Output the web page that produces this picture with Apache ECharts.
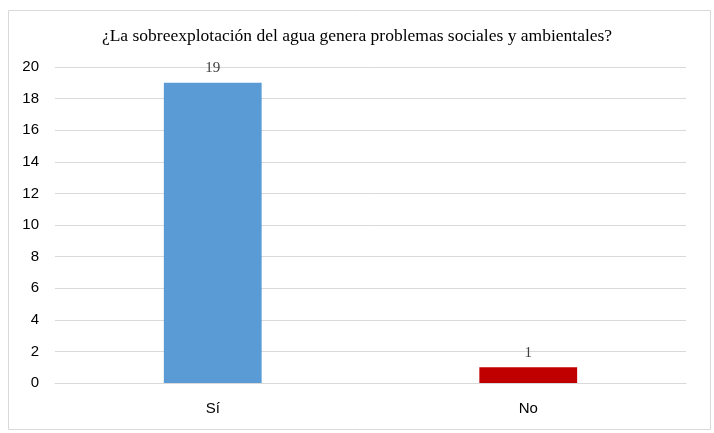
<!DOCTYPE html>
<html>
<head>
<meta charset="utf-8">
<script src="https://cdn.jsdelivr.net/npm/echarts@6/dist/echarts.min.js"></script>
<style>
  html, body { margin: 0; padding: 0; background: #fff; }
  #chart { width: 714px; height: 433px; }
</style>
</head>
<body>
<div id="chart"></div>
<script>
const categories = ["Sí", "No"];
const values = [19, 1];
const barColors = ["#5B9BD5", "#C00000"];
const titleText = "¿La sobreexplotación del agua genera problemas sociales y ambientales?";

const sans = "'Liberation Sans Narrow', 'Liberation Sans', sans-serif";
const serif = "'Liberation Serif', 'DejaVu Serif', serif";

const chart = echarts.init(document.getElementById("chart"));

chart.setOption({
  backgroundColor: "#fff",
  animation: false,
  title: {
    text: titleText,
    left: "center",
    top: 22,
    textStyle: {
      fontFamily: serif,
      fontSize: 17.5,
      fontWeight: "normal",
      color: "#000"
    }
  },
  graphic: [
    {
      type: "rect",
      left: 6,
      top: 8,
      shape: { width: 702, height: 419 },
      style: { fill: "none", stroke: "#d9d9d9", lineWidth: 1 },
      silent: true
    }
  ],
  grid: { left: 55, right: 28, top: 67, bottom: 50 },
  xAxis: {
    type: "category",
    data: categories,
    axisTick: { show: false },
    axisLine: { lineStyle: { color: "#d9d9d9" } },
    axisLabel: {
      margin: 18,
      fontFamily: sans,
      fontSize: 15,
      color: "#000"
    }
  },
  yAxis: {
    type: "value",
    min: 0,
    max: 20,
    interval: 2,
    axisLine: { show: false },
    axisTick: { show: false },
    splitLine: { lineStyle: { color: "#d9d9d9" } },
    axisLabel: {
      margin: 16,
      fontFamily: sans,
      fontSize: 15,
      color: "#000"
    }
  },
  series: [
    {
      type: "bar",
      barWidth: "31%",
      data: values.map((v, i) => ({ value: v, itemStyle: { color: barColors[i] } })),
      label: {
        show: true,
        position: "top",
        distance: 7,
        fontFamily: serif,
        fontSize: 15,
        color: "#404040"
      }
    }
  ]
});
</script>
</body>
</html>
